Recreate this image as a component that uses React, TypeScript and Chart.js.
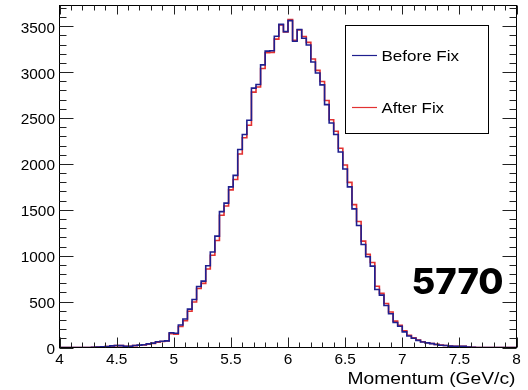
import React, { useEffect, useRef } from "react";
import { Chart, registerables } from "chart.js";

Chart.register(...registerables);

// Histogram binning: 100 bins of 0.04 GeV/c between 4 and 8 GeV/c
const X_MIN = 4;
const X_MAX = 8;
const BIN_WIDTH = 0.04;
const Y_MAX = 3725;

const xTickValues = [4, 4.5, 5, 5.5, 6, 6.5, 7, 7.5, 8];
const xTickLabels = ["4", "4.5", "5", "5.5", "6", "6.5", "7", "7.5", "8"];
const yTickValues = [0, 500, 1000, 1500, 2000, 2500, 3000, 3500];
const yTickLabels = ["0", "500", "1000", "1500", "2000", "2500", "3000", "3500"];

const seriesLabels = ["Before Fix", "After Fix"];
const seriesColors = ["#1f1f8f", "#e23232"];

// Bin contents (entries per bin), bins ordered from low to high momentum
const beforeFix = [
  0, 0, 0, 0, 0, 0, 0, 2, 6, 8,
  10, 18, 22, 20, 14, 14, 22, 26, 30, 40,
  48, 62, 68, 72, 160, 155, 245, 310, 418, 523,
  665, 723, 890, 1040, 1213, 1480, 1572, 1750, 1875, 2157,
  2320, 2475, 2825, 2865, 3078, 3228, 3232, 3390, 3519, 3440,
  3560, 3335, 3464, 3368, 3295, 3110, 2990, 2860, 2645, 2445,
  2320, 2130, 1945, 1750, 1510, 1329, 1122, 988, 886, 632,
  570, 458, 367, 272, 232, 170, 125, 100, 78, 60,
  50, 42, 32, 25, 22, 15, 14, 14, 12, 6,
  3, 0, 0, 0, 0, 0, 0, 0, 0, 0,
];

const afterFix = [
  0, 0, 0, 0, 0, 0, 0, 2, 5, 7,
  9, 16, 20, 20, 14, 13, 20, 24, 28, 37,
  45, 58, 66, 70, 151, 146, 228, 291, 395, 496,
  643, 698, 855, 1005, 1165, 1440, 1542, 1717, 1830, 2108,
  2285, 2420, 2782, 2837, 3038, 3211, 3214, 3359, 3514, 3436,
  3571, 3346, 3460, 3387, 3323, 3143, 3018, 2898, 2691, 2481,
  2355, 2171, 1987, 1798, 1556, 1372, 1159, 1014, 925, 667,
  589, 480, 387, 287, 243, 182, 133, 105, 82, 63,
  52, 44, 34, 27, 22, 16, 14, 14, 12, 6,
  3, 0, 0, 0, 0, 0, 0, 0, 0, 0,
];

const TEXT_FONT = "'Liberation Sans', Arial, Helvetica, sans-serif";

// Turn bin contents into step points at the lower bin edges (+ closing edge)
function toSteps(values: number[]) {
  const pts = values.map((v, i) => ({ x: X_MIN + i * BIN_WIDTH, y: v }));
  pts.push({ x: X_MAX, y: values[values.length - 1] });
  return pts;
}

// Draw text with a horizontal stretch so glyphs match the wide Helvetica look
function stretchedText(
  ctx: CanvasRenderingContext2D,
  text: string,
  x: number,
  y: number,
  font: string,
  align: "left" | "right" | "center",
  sx: number
) {
  ctx.save();
  ctx.font = font;
  ctx.textAlign = "left";
  ctx.textBaseline = "alphabetic";
  const w = ctx.measureText(text).width * sx;
  let left = x;
  if (align === "right") left = x - w;
  if (align === "center") left = x - w / 2;
  ctx.translate(left, y);
  ctx.scale(sx, 1);
  ctx.fillText(text, 0, 0);
  ctx.restore();
}

// Draw text squeezed/stretched to an exact width
function fittedText(
  ctx: CanvasRenderingContext2D,
  text: string,
  left: number,
  baseline: number,
  width: number,
  font: string
) {
  ctx.save();
  ctx.font = font;
  ctx.textAlign = "left";
  ctx.textBaseline = "alphabetic";
  const sx = width / ctx.measureText(text).width;
  ctx.translate(left, baseline);
  ctx.scale(sx, 1);
  ctx.fillText(text, 0, 0);
  ctx.restore();
}

const frameAndAnnotations = {
  id: "frameAndAnnotations",
  afterDatasetsDraw(chart: Chart) {
    const ctx = chart.ctx;
    const { left, right, top, bottom } = chart.chartArea;
    const xs = chart.scales.x;
    const ys = chart.scales.y;

    ctx.save();
    ctx.strokeStyle = "#000";
    ctx.lineWidth = 1;
    ctx.strokeRect(left, top, right - left, bottom - top);

    // x-axis ticks (bottom and mirrored top), minor every 0.1
    ctx.strokeStyle = "#222";
    ctx.beginPath();
    for (let k = 0; k <= 40; k++) {
      const v = X_MIN + k * 0.1;
      const px = Math.round(xs.getPixelForValue(v)) + 0.5;
      const major = k % 5 === 0;
      const len = major ? 10 : 5;
      ctx.moveTo(px, bottom);
      ctx.lineTo(px, bottom - len);
      ctx.moveTo(px, top);
      ctx.lineTo(px, top + (major ? 9 : 5));
    }
    // y-axis ticks (left and mirrored right), minor every 100
    for (let k = 0; k * 100 <= Y_MAX; k++) {
      const v = k * 100;
      const py = Math.round(ys.getPixelForValue(v)) + 0.5;
      const major = k % 5 === 0;
      const len = major ? 14 : 7;
      ctx.moveTo(left, py);
      ctx.lineTo(left + len, py);
      ctx.moveTo(right, py);
      ctx.lineTo(right - len, py);
    }
    ctx.stroke();

    // tick labels
    ctx.fillStyle = "#000";
    const tickFont = `14px ${TEXT_FONT}`;
    xTickValues.forEach((v, i) => {
      stretchedText(ctx, xTickLabels[i], xs.getPixelForValue(v), bottom + 16, tickFont, "center", 1.1);
    });
    yTickValues.forEach((v, i) => {
      stretchedText(ctx, yTickLabels[i], left - 4.5, ys.getPixelForValue(v) + 6.5, tickFont, "right", 1.1);
    });

    // axis title
    fittedText(ctx, "Momentum (GeV/c)", 347.5, 384, 168, `16px ${TEXT_FONT}`);

    // legend box
    ctx.strokeStyle = "#000";
    ctx.lineWidth = 1;
    ctx.fillStyle = "#fff";
    ctx.fillRect(345.5, 25.5, 143, 108);
    ctx.strokeRect(345.5, 25.5, 143, 108);
    const rows = [55.5, 107.5];
    seriesLabels.forEach((label, i) => {
      ctx.strokeStyle = seriesColors[i];
      ctx.lineWidth = 1.2;
      ctx.beginPath();
      ctx.moveTo(352, rows[i]);
      ctx.lineTo(377, rows[i]);
      ctx.stroke();
      ctx.fillStyle = "#000";
      fittedText(ctx, label, 381.5, rows[i] + 5.5, i === 0 ? 77.5 : 62.5, `15.5px ${TEXT_FONT}`);
    });

    // run number tag
    ctx.fillStyle = "#000";
    fittedText(ctx, "5770", 411.5, 293.5, 92, `800 35px Inter, 'Open Sans', sans-serif`);
    ctx.restore();
  },
};

export default function App() {
  const canvasRef = useRef<HTMLCanvasElement | null>(null);

  useEffect(() => {
    const canvas = canvasRef.current;
    if (!canvas) return;
    const chart = new Chart(canvas, {
      type: "line",
      data: {
        datasets: [
          {
            label: seriesLabels[0],
            data: toSteps(beforeFix),
            borderColor: seriesColors[0],
            borderWidth: 1.6,
            stepped: "before",
            pointRadius: 0,
            fill: false,
          },
          {
            label: seriesLabels[1],
            data: toSteps(afterFix),
            borderColor: seriesColors[1],
            borderWidth: 1.6,
            stepped: "before",
            pointRadius: 0,
            fill: false,
          },
        ],
      },
      options: {
        animation: false,
        responsive: false,
        devicePixelRatio: 1,
        layout: { padding: { left: 59.5, right: 11.5, top: 5.5, bottom: 42.5 } },
        scales: {
          x: { type: "linear", min: X_MIN, max: X_MAX, display: false },
          y: { type: "linear", min: 0, max: Y_MAX, display: false },
        },
        plugins: {
          legend: { display: false },
          tooltip: { enabled: false },
        },
        parsing: false,
        normalized: true,
      },
      plugins: [frameAndAnnotations],
    });
    return () => chart.destroy();
  }, []);

  return (
    <div style={{ position: "fixed", left: 0, top: 0, width: 528, height: 390, background: "#fff" }}>
      <canvas ref={canvasRef} width={528} height={390} style={{ display: "block" }} />
    </div>
  );
}
